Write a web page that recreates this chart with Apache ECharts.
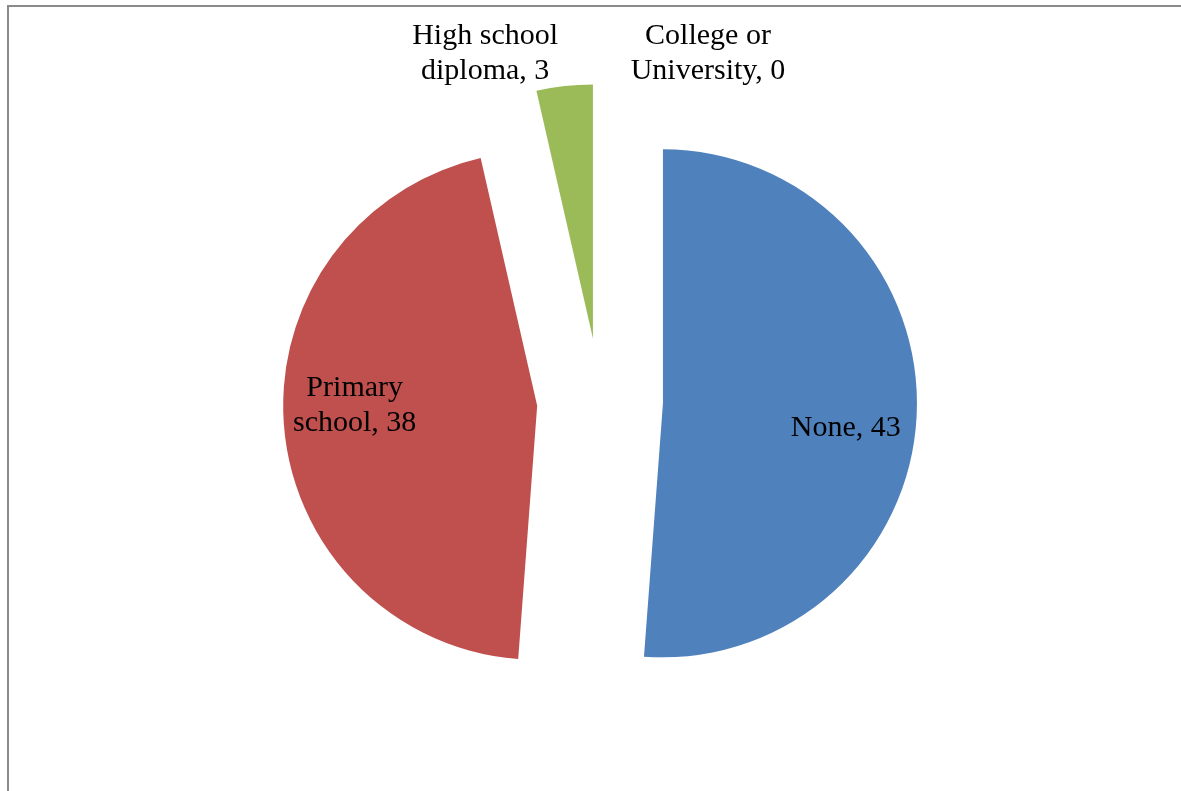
<!DOCTYPE html>
<html><head><meta charset="utf-8">
<script src="https://cdn.jsdelivr.net/npm/echarts@6/dist/echarts.min.js"></script>
<style>html,body{margin:0;padding:0;background:#fff;overflow:hidden}#chart{width:1181px;height:791px}</style>
</head><body><div id="chart"></div>
<script>
const categories = ['None', 'Primary school', 'High school diploma', 'College or University'];
const labelNames = ['None', 'Primary\nschool', 'High school\ndiploma', 'College or\nUniversity'];
const values = [43, 38, 3, 0];
const colors = ['#4F81BD', '#C0504D', '#9BBB59', '#8064A2'];
const labelShift = [[-3, 18], [3, -14], [-87, -100], [108, -98]];

const chart = echarts.init(document.getElementById('chart'), null, {renderer: 'canvas'});
const CENTER = [600, 401];
const RADIUS = 254;
const OFFSET = 63;

const pieData = categories.map((c, i) => ({
  name: c, value: values[i], selected: true,
  itemStyle: {color: colors[i]},
  select: {itemStyle: {color: colors[i]}}
}));
const labelData = categories.map((c, i) => ({
  name: labelNames[i], value: values[i], selected: true,
  itemStyle: {color: 'rgba(0,0,0,0)'},
  select: {itemStyle: {color: 'rgba(0,0,0,0)'}}
}));

chart.setOption({
  animation: false,
  backgroundColor: '#fff',
  graphic: [{
    type: 'rect', silent: true,
    shape: {x: 8, y: 6, width: 3000, height: 3000},
    style: {fill: 'none', stroke: '#8a8a8a', lineWidth: 2}
  }],
  series: [{
    type: 'pie', center: CENTER, radius: [0, RADIUS],
    startAngle: 90, clockwise: true,
    selectedMode: 'multiple', selectedOffset: OFFSET,
    avoidLabelOverlap: false, silent: true,
    label: {show: false}, labelLine: {show: false},
    emphasis: {disabled: true},
    data: pieData
  }, {
    type: 'pie', center: CENTER, radius: [112, RADIUS],
    startAngle: 90, clockwise: true,
    selectedMode: 'multiple', selectedOffset: OFFSET,
    avoidLabelOverlap: false, silent: true, z: 5,
    emphasis: {disabled: true},
    label: {
      show: true, position: 'inside', color: '#000',
      fontFamily: 'Liberation Serif', fontSize: 30, lineHeight: 35,
      formatter: p => p.name + ', ' + p.value
    },
    labelLine: {show: false},
    labelLayout: p => ({dx: labelShift[p.dataIndex][0], dy: labelShift[p.dataIndex][1]}),
    data: labelData
  }]
});
</script></body></html>
